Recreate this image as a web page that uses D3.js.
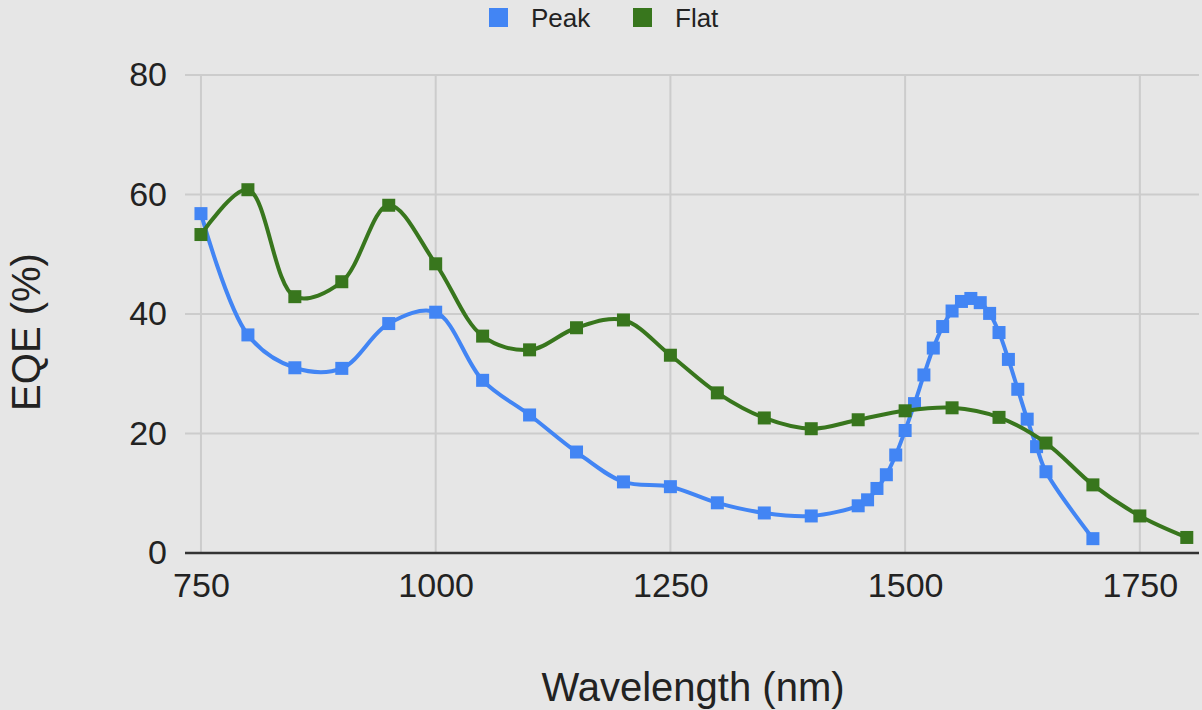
<!DOCTYPE html>
<html>
<head>
<meta charset="utf-8">
<script src="https://cdn.jsdelivr.net/npm/d3@7"></script>
<style>
  html, body { margin: 0; padding: 0; background: #e6e6e6; }
  text { font-family: Arial, "Liberation Sans", sans-serif; }
</style>
</head>
<body>
<div id="eqeChart"></div>
<script>
// chart data
const peakWavelengths = [750, 800, 850, 900, 950, 1000, 1050, 1100, 1150, 1200, 1250, 1300, 1350, 1400, 1450,
    1460, 1470, 1480, 1490, 1500, 1510, 1520, 1530, 1540, 1550, 1560, 1570, 1580, 1590, 1600,
    1610, 1620, 1630, 1640, 1650, 1700];
const peakValues = [56.8, 36.5, 31.0, 30.9, 38.4, 40.3, 28.9, 23.1, 16.9, 11.9, 11.1, 8.4, 6.7, 6.2, 7.9,
    8.9, 10.8, 13.1, 16.4, 20.5, 25.0, 29.8, 34.3, 37.9, 40.5, 42.1, 42.6, 41.9, 40.1, 36.9,
    32.4, 27.4, 22.4, 17.8, 13.6, 2.4];

const flatWavelengths = [750, 800, 850, 900, 950, 1000, 1050, 1100, 1150, 1200, 1250, 1300, 1350, 1400, 1450,
    1500, 1550, 1600, 1650, 1700, 1750, 1800];
const flatValues = [53.3, 60.8, 42.9, 45.4, 58.2, 48.4, 36.3, 34.0, 37.7, 39.0, 33.1, 26.8, 22.6, 20.8, 22.3,
    23.8, 24.3, 22.7, 18.4, 11.4, 6.2, 2.6];

const seriesNames = ['Peak', 'Flat'];
const seriesColors = ['#4285f4', '#38761d'];
const xTicks = [750, 1000, 1250, 1500, 1750];
const yTicks = [0, 20, 40, 60, 80];

const chartWidth = 1202;
const chartHeight = 710;
const plot = { left: 185, right: 1199, top: 75, bottom: 553 };

const svg = d3
    .select('#eqeChart')
    .append('svg')
    .attr('width', chartWidth)
    .attr('height', chartHeight);

svg.append('rect')
    .attr('width', chartWidth)
    .attr('height', chartHeight)
    .attr('fill', '#e6e6e6');

// scales
const xScale = d3.scaleLinear()
    .domain([733, 1813])
    .range([plot.left, plot.right]);

const yScale = d3.scaleLinear()
    .domain([0, 80])
    .range([plot.bottom, plot.top]);

// gridlines
svg.append('g')
    .selectAll('line')
    .data(yTicks.filter(d => d !== 0))
    .enter().append('line')
    .attr('x1', plot.left)
    .attr('x2', plot.right)
    .attr('y1', d => yScale(d))
    .attr('y2', d => yScale(d))
    .attr('stroke', '#cccccc')
    .attr('stroke-width', 2);

svg.append('g')
    .selectAll('line')
    .data(xTicks)
    .enter().append('line')
    .attr('x1', d => xScale(d))
    .attr('x2', d => xScale(d))
    .attr('y1', plot.top)
    .attr('y2', plot.bottom)
    .attr('stroke', '#cccccc')
    .attr('stroke-width', 2);

// baseline
svg.append('line')
    .attr('x1', plot.left)
    .attr('x2', plot.right)
    .attr('y1', yScale(0))
    .attr('y2', yScale(0))
    .attr('stroke', '#333333')
    .attr('stroke-width', 2.5);

// axes (labels only, d3 axis with hidden domain/ticks)
const xAxis = svg.append('g')
    .attr('transform', `translate(0,${plot.bottom})`)
    .call(d3.axisBottom(xScale).tickValues(xTicks).tickFormat(d3.format('d')).tickSize(0).tickPadding(20));
xAxis.select('.domain').remove();
xAxis.selectAll('text')
    .attr('dy', '0.71em')
    .style('font-size', '34px')
    .attr('fill', '#222');

const yAxis = svg.append('g')
    .attr('transform', `translate(${plot.left},0)`)
    .call(d3.axisLeft(yScale).tickValues(yTicks).tickSize(0).tickPadding(18));
yAxis.select('.domain').remove();
yAxis.selectAll('text')
    .style('font-size', '34px')
    .attr('fill', '#222');

// axis titles
svg.append('text')
    .attr('x', 693)
    .attr('y', 701)
    .attr('text-anchor', 'middle')
    .style('font-size', '40px')
    .attr('fill', '#222')
    .text('Wavelength (nm)');

svg.append('text')
    .attr('transform', 'rotate(-90)')
    .attr('x', -332)
    .attr('y', 40)
    .attr('text-anchor', 'middle')
    .style('font-size', '40px')
    .attr('fill', '#222')
    .text('EQE (%)');

// series
const series = [
    { name: seriesNames[0], color: seriesColors[0], points: peakWavelengths.map((w, i) => ({ x: w, y: peakValues[i] })) },
    { name: seriesNames[1], color: seriesColors[1], points: flatWavelengths.map((w, i) => ({ x: w, y: flatValues[i] })) },
];

const line = d3.line()
    .x(d => xScale(d.x))
    .y(d => yScale(d.y))
    .curve(d3.curveCatmullRom.alpha(0.5));

const markerSize = 13;

series.forEach(s => {
    svg.append('path')
        .datum(s.points)
        .attr('fill', 'none')
        .attr('stroke', s.color)
        .attr('stroke-width', 4)
        .attr('d', line);

    svg.append('g')
        .selectAll('rect')
        .data(s.points)
        .enter().append('rect')
        .attr('x', d => xScale(d.x) - markerSize / 2)
        .attr('y', d => yScale(d.y) - markerSize / 2)
        .attr('width', markerSize)
        .attr('height', markerSize)
        .attr('fill', s.color);
});

// legend
const legendX = [489, 633];
const legend = svg.append('g');
series.forEach((s, i) => {
    legend.append('rect')
        .attr('x', legendX[i])
        .attr('y', 8)
        .attr('width', 19)
        .attr('height', 19)
        .attr('fill', s.color);
    legend.append('text')
        .attr('x', legendX[i] + 42)
        .attr('y', 26.5)
        .style('font-size', '26px')
        .attr('fill', '#222')
        .text(s.name);
});
</script>
</body>
</html>
